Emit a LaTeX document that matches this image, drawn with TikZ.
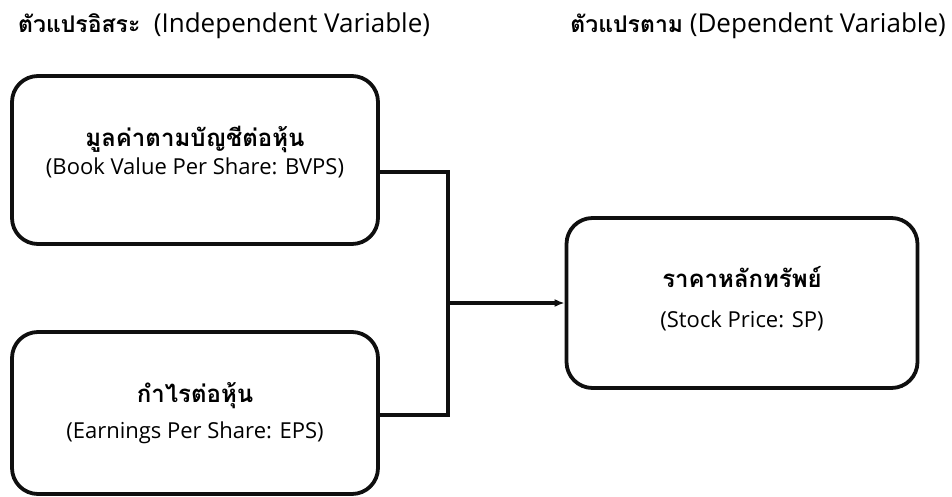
\documentclass[tikz,border=0pt]{standalone}
\usepackage{fontspec}
\setmainfont{Open Sans}
\newfontfamily\thaifont[Script=Thai]{Loma}
\usepackage{tikz}
\usetikzlibrary{arrows.meta,calc,positioning}
\usepackage{xcolor}
\definecolor{boxline}{RGB}{15,15,15}
\newcommand{\thaihead}[1]{{\thaifont\bfseries\fontsize{23}{26}\selectfont #1}}
\newcommand{\thaibox}[1]{{\thaifont\bfseries\fontsize{24}{28}\selectfont #1}}

\begin{document}
\begin{tikzpicture}[x=1pt,y=-1pt,
  varbox/.style={draw=boxline,line width=3.8pt,rounded corners=26pt,
    align=center,font=\fontsize{22}{26}\selectfont},
  link/.style={draw=boxline,line width=3.4pt},
  head/.style={font=\fontsize{26}{30}\selectfont,inner sep=0pt}]
  \useasboundingbox (0,0) rectangle (952,497);
  % column headings
  \node[head,anchor=west] (hin) at (18,26)
    {\thaihead{ตัวแปรอิสระ}\ \ (Independent Variable)};
  \node[head,anchor=east] (hdep) at (946,26)
    {\thaihead{ตัวแปรตาม} (Dependent Variable)};
  % variable boxes
  \node[varbox,minimum width=366pt,minimum height=168pt] (bvps) at (195,160)
    {\thaibox{มูลค่าตามบัญชีต่อหุ้น}\\[2pt](Book Value Per Share: BVPS)\\[-6pt]\mbox{}};
  \node[varbox,minimum width=366pt,minimum height=162pt] (eps) at (195,413)
    {\thaibox{กำไรต่อหุ้น}\\[10pt](Earnings Per Share: EPS)};
  \node[varbox,minimum width=351pt,minimum height=170pt] (sp) at (742,303)
    {\thaibox{ราคาหลักทรัพย์}\\[14pt](Stock Price: SP)\\[-14pt]\mbox{}};
  % connectors
  \coordinate (jn) at (448,303);
  \draw[link] ([yshift=-12pt]bvps.east) -| (jn) |- ([yshift=-2pt]eps.east);
  \draw[link,-{Latex[length=10pt,width=8pt]}] (jn) -- (sp.west);
\end{tikzpicture}
\end{document}
